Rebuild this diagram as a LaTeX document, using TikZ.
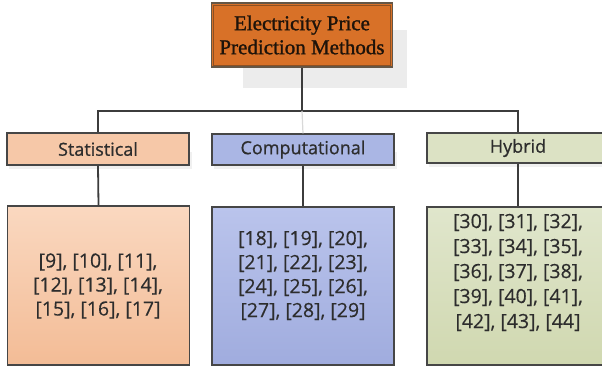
\documentclass[tikz,border=0pt]{standalone}
\usepackage{fontspec}
\setmainfont{Open Sans}
\newfontfamily\headfont[FakeBold=1.2]{Liberation Serif}
\newfontfamily\labelfont[FakeBold=0.8]{Open Sans}
\newfontfamily\reffont[FakeBold=0.4]{Open Sans}
\begin{document}
\definecolor{headfill}{RGB}{216,113,40}
\definecolor{headedge}{RGB}{100,86,70}
\definecolor{headinner}{RGB}{140,80,35}
\definecolor{edge}{RGB}{70,70,70}
\definecolor{wire}{RGB}{60,60,60}
\definecolor{statfill}{RGB}{246,200,168}
\definecolor{stattop}{RGB}{250,216,192}
\definecolor{statbot}{RGB}{243,188,150}
\definecolor{compfill}{RGB}{170,182,228}
\definecolor{comptop}{RGB}{186,196,236}
\definecolor{compbot}{RGB}{160,172,222}
\definecolor{hybfill}{RGB}{220,226,196}
\definecolor{hybtop}{RGB}{224,230,204}
\definecolor{hybbot}{RGB}{208,216,176}
\definecolor{shadowgray}{RGB}{236,236,236}
\definecolor{txt}{RGB}{45,45,45}
\begin{tikzpicture}[x=1pt,y=-1pt,
  labelbox/.style={draw=edge, line width=1.4pt, minimum width=182pt, inner sep=0pt,
    text=txt, font=\labelfont\fontsize{18}{24}\selectfont},
  bodybox/.style={draw=edge, line width=1.4pt, minimum width=182pt, minimum height=158pt, inner sep=0pt},
  refs/.style={align=center, text=txt, font=\reffont\fontsize{19.5}{24}\selectfont},
  wireline/.style={draw=wire, line width=1.8pt},
  boxshadow/.style={fill=black!6, draw=none}]
\useasboundingbox (0,0) rectangle (602,367);
% soft shadow plate behind the title box
\fill[shadowgray] (243,30) rectangle (407,88);
% faint shadows under the category boxes
\fill[boxshadow] (9,152) rectangle (192,169);
\fill[boxshadow] (214,152) rectangle (397,169);
\fill[boxshadow] (429,151) rectangle (612,167);

% title box
\node[draw=headedge, line width=1.8pt, fill=headfill, minimum width=181pt, minimum height=64pt,
      inner sep=0pt, align=center, text=black!85!brown,
      font=\headfont\fontsize{21}{24}\selectfont] (top) at (302,35)
      {Electricity Price\\Prediction Methods};
\draw[headinner, line width=0.8pt] ([shift={(3,3)}]top.north west) rectangle ([shift={(-3,-3)}]top.south east);

% category boxes
\node[labelbox, fill=statfill, minimum height=32pt] (statlab) at (98,149) {Statistical};
\node[labelbox, fill=compfill, minimum height=31pt] (complab) at (303,149.5) {Computational};
\node[labelbox, fill=hybfill, minimum height=30pt] (hyblab) at (518,148) {Hybrid};

% reference boxes
\node[bodybox, top color=stattop, bottom color=statbot, minimum height=159pt] (statbody) at (98.5,285.5) {};
\node[bodybox, top color=comptop, bottom color=compbot] (compbody) at (303,286) {};
\node[bodybox, top color=hybtop, bottom color=hybbot] (hybbody) at (518,286) {};

\node[refs] (statrefs) at (98,286) {[9], [10], [11],\\{}[12], [13], [14],\\{}[15], [16], [17]};
\node[refs] (comprefs) at (303,275.5) {[18], [19], [20],\\{}[21], [22], [23],\\{}[24], [25], [26],\\{}[27], [28], [29]};
\node[refs, font=\reffont\fontsize{19.5}{25}\selectfont] (hybrefs) at (518,272.5) {[30], [31], [32],\\{}[33], [34], [35],\\{}[36], [37], [38],\\{}[39], [40], [41],\\{}[42], [43], [44]};

% connectors
\coordinate (bus) at (302,111);
\draw[wireline] (top.south) -- (bus);
\draw[wireline] (statlab.north) -- (statlab.north |- bus) -- (hyblab.north |- bus) -- (hyblab.north);
\draw[draw=black!15, line width=1.2pt] (bus) -- (complab.north);
\draw[wireline] (statlab.south) -- (statbody.north);
\draw[wireline] (complab.south) -- (compbody.north);
\draw[wireline] (hyblab.south) -- (hybbody.north);
\end{tikzpicture}
\end{document}
